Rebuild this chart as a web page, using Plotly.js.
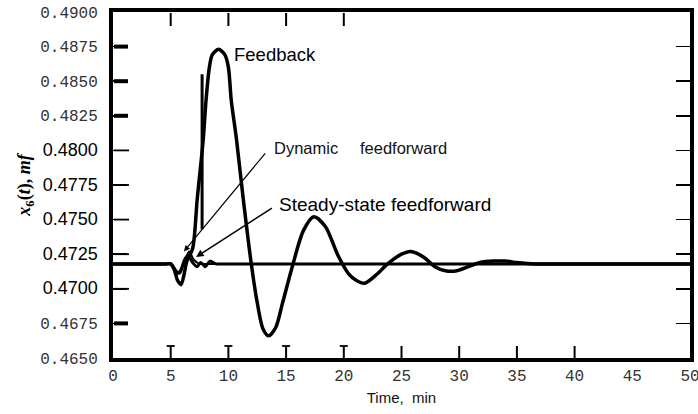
<!DOCTYPE html>
<html>
<head>
<meta charset="utf-8">
<script src="https://cdn.plot.ly/plotly-3.0.1.min.js"></script>
<style>html,body{margin:0;padding:0;background:#fff;}#chart{width:698px;height:414px;}</style>
</head>
<body>
<div id="chart"></div>
<script>
// ---- data ----
const feedbackT = [0, 2, 4.0, 4.6, 5.0, 5.3, 5.6, 5.9, 6.15, 6.4, 6.9, 7.3, 7.82, 8.06, 8.35, 8.6, 9.15, 9.7, 10.0, 10.25, 10.7, 11.3, 12.0, 12.5, 13.0, 13.5, 14.1, 14.7, 15.6, 16.5, 17.4, 18.4, 19.5, 20.4, 21.1, 21.8, 22.8, 23.8, 25.0, 25.8, 26.9, 27.9, 28.8, 29.8, 30.8, 31.8, 33.0, 34.0, 35.0, 36.5, 38, 40, 45, 50];
const feedbackY = [0.4718, 0.4718, 0.4718, 0.4718, 0.4718, 0.4714, 0.4706, 0.4703, 0.4710, 0.4720, 0.4729, 0.4765, 0.4808, 0.4836, 0.4860, 0.4869, 0.4873, 0.4869, 0.4860, 0.4836, 0.4808, 0.4764, 0.4717, 0.4690, 0.4671, 0.4666, 0.4672, 0.4690, 0.4718, 0.4742, 0.4752, 0.4745, 0.4724, 0.4711, 0.4706, 0.4704, 0.4710, 0.4718, 0.4725, 0.4727, 0.4723, 0.4716, 0.4713, 0.4713, 0.4716, 0.4719, 0.4720, 0.4720, 0.4719, 0.4718, 0.4718, 0.4718, 0.4718, 0.4718];

const dynamicT = [0, 2, 4.0, 4.6, 5.0, 5.4, 5.8, 6.2, 6.6, 7.0, 7.5, 8.0, 9.0, 12, 20, 30, 40, 50];
const dynamicY = [0.4718, 0.4718, 0.4718, 0.4718, 0.4718, 0.4714, 0.4711, 0.4720, 0.4727, 0.4721, 0.4718, 0.4718, 0.4718, 0.4718, 0.4718, 0.4718, 0.4718, 0.4718];

const steadyT = [0, 2, 4.0, 4.6, 5.0, 5.3, 5.6, 5.9, 6.2, 6.5, 6.9, 7.3, 7.6, 8.0, 8.4, 8.9, 9.4, 10, 12, 20, 30, 40, 50];
const steadyY = [0.4718, 0.4718, 0.4718, 0.4718, 0.4718, 0.4715, 0.4711, 0.4714, 0.4721, 0.4724, 0.4719, 0.4716, 0.4719, 0.4716, 0.4720, 0.4718, 0.4718, 0.4718, 0.4718, 0.4718, 0.4718, 0.4718, 0.4718];

// stray vertical stroke visible in the scanned figure
const strokeT = [7.72, 7.72];
const strokeY = [0.4855, 0.4743];

const xTickVals = [0, 5, 10, 15, 20, 25, 30, 35, 40, 45, 50];
const xTickText = ['0', '5', '10', '15', '20', '25', '30', '35', '40', '45', '50'];
const xBottomTicks = [5, 10, 15, 20, 25, 30, 35, 40];
const xCappedTicks = [5, 10, 15, 20];
const xTopTicks = [5, 10, 15, 20];

const yTickVals = [0.4650, 0.4675, 0.4700, 0.4725, 0.4750, 0.4775, 0.4800, 0.4825, 0.4850, 0.4875, 0.4900];
const yTickText = ['0.4650', '0.4675', '0.4700', '0.4725', '0.4750', '0.4775', '0.4800', '0.4825', '0.4850', '0.4875', '0.4900'];
const ySansLabels = ['0.4700', '0.4725', '0.4750', '0.4775', '0.4800'];
const yThinTicks = [0.4700, 0.4725, 0.4750, 0.4775, 0.4800];
const yThickTicks = [0.4675, 0.4825, 0.4850, 0.4875];

// ---- build ----
const W = 698, H = 414, M = {l: 113, r: 8, t: 12, b: 56};
const xRange = [0, 50], yRange = [0.465, 0.49];
const pxPerX = (W - M.l - M.r) / (xRange[1] - xRange[0]);
const pxPerY = (H - M.t - M.b) / (yRange[1] - yRange[0]);
const dx = px => px / pxPerX;   // pixel length -> x data units
const dy = px => px / pxPerY;   // pixel length -> y data units

const mono = 'Liberation Mono, DejaVu Sans Mono, monospace';
const sans = 'Liberation Sans, Arial, sans-serif';

const yText = yTickText.map(s => ySansLabels.includes(s)
  ? '<span style="font-family:Liberation Sans, Arial, sans-serif;font-size:18px;fill:#000">' + s + '</span>'
  : s);

// tick marks as shapes placed through the axis scales
const tickShapes = [];
const tick = (x0, x1, y0, y1, w) => tickShapes.push({type: 'line', xref: 'x', yref: 'y', layer: 'above',
  x0: x0, x1: x1, y0: y0, y1: y1, line: {color: '#000', width: w}});
xBottomTicks.forEach(v => tick(v, v, yRange[0], yRange[0] + dy(12), 2));
xCappedTicks.forEach(v => tick(v - dx(4), v + dx(4), yRange[0] + dy(12), yRange[0] + dy(12), 1.8));
xTopTicks.forEach(v => tick(v, v, yRange[1] - dy(1), yRange[1] - dy(14), 2));
yThinTicks.forEach(v => tick(xRange[0] + dx(1), xRange[0] + dx(16), v, v, 1.8));
yThickTicks.forEach(v => tick(xRange[0] + dx(1), xRange[0] + dx(15), v, v, 4));

const traces = [
  {x: feedbackT, y: feedbackY, mode: 'lines', name: 'Feedback',
   line: {color: '#000', width: 3.5, shape: 'spline', smoothing: 0.8}},
  {x: dynamicT, y: dynamicY, mode: 'lines', name: 'Dynamic feedforward',
   line: {color: '#000', width: 2, shape: 'spline', smoothing: 0.8}},
  {x: steadyT, y: steadyY, mode: 'lines', name: 'Steady-state feedforward',
   line: {color: '#000', width: 3, shape: 'spline', smoothing: 0.8}},
  {x: strokeT, y: strokeY, mode: 'lines', name: 'stroke',
   line: {color: '#000', width: 3}}
];

const layout = {
  width: W, height: H,
  margin: M,
  paper_bgcolor: '#fff', plot_bgcolor: '#fff',
  showlegend: false,
  xaxis: {
    range: xRange, tickmode: 'array', tickvals: xTickVals, ticktext: xTickText,
    ticks: '', showgrid: false, zeroline: false,
    showline: true, linewidth: 4, linecolor: '#000', mirror: true,
    tickfont: {family: mono, size: 16, color: '#333'},
    ticklabelstandoff: 0, ticklabeloverflow: 'allow',
    title: {text: 'Time,  min', font: {family: sans, size: 15, color: '#111'}, standoff: 8}
  },
  yaxis: {
    range: yRange, tickmode: 'array', tickvals: yTickVals, ticktext: yText,
    ticks: 'inside', ticklen: 14, tickwidth: 1.5, tickcolor: '#000',
    showgrid: false, zeroline: false,
    showline: true, linewidth: 4, linecolor: '#000', mirror: 'ticks',
    tickfont: {family: mono, size: 16, color: '#333'},
    ticklabelstandoff: 8,
    title: {text: '<i>x</i><sub>6</sub>(<i>t</i>), <i>mf</i>',
            font: {family: 'Liberation Serif, serif', size: 18, color: '#000', weight: 'bold'}, standoff: 6}
  },
  shapes: tickShapes,
  annotations: [
    {x: 10.3, y: 0.4869, xref: 'x', yref: 'y', text: 'Feedback', showarrow: false,
     xanchor: 'left', yanchor: 'middle', font: {family: sans, size: 18.5, color: '#000'}},
    {x: 13.75, y: 0.4802, xref: 'x', yref: 'y', text: 'Dynamic', showarrow: false,
     xanchor: 'left', yanchor: 'middle', font: {family: sans, size: 16.5, color: '#111'}},
    {x: 21.2, y: 0.4802, xref: 'x', yref: 'y', text: 'feedforward', showarrow: false,
     xanchor: 'left', yanchor: 'middle', font: {family: sans, size: 16.5, color: '#111'}},
    {x: 14.2, y: 0.4761, xref: 'x', yref: 'y', text: 'Steady-state feedforward', showarrow: false,
     xanchor: 'left', yanchor: 'middle', font: {family: sans, size: 19, color: '#000'}},
    {x: 6.15, y: 0.4727, xref: 'x', yref: 'y', ax: 13.3, ay: 0.4799, axref: 'x', ayref: 'y',
     text: '', showarrow: true, arrowhead: 2, arrowsize: 1, arrowwidth: 1.2, arrowcolor: '#000'},
    {x: 7.2, y: 0.4723, ax: 13.9, ay: 0.4759, xref: 'x', yref: 'y', axref: 'x', ayref: 'y',
     text: '', showarrow: true, arrowhead: 2, arrowsize: 1, arrowwidth: 1.5, arrowcolor: '#000'}
  ]
};

Plotly.newPlot('chart', traces, layout, {staticPlot: true, displayModeBar: false});
</script>
</body>
</html>
